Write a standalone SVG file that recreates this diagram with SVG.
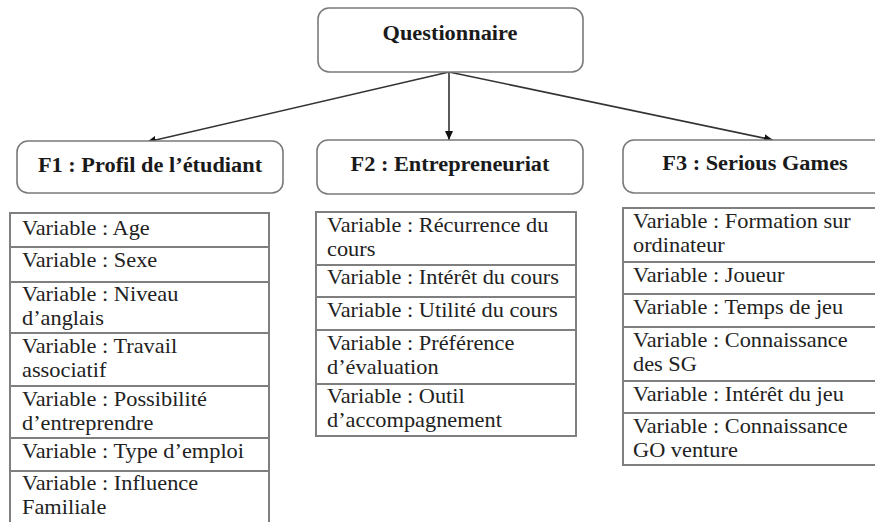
<svg xmlns="http://www.w3.org/2000/svg" width="875" height="522" viewBox="0 0 875 522">
<defs>
<style>
.box{fill:#fff;stroke:#7a7a7a;stroke-width:1.6}
.cell{fill:#fff;stroke:#7f7f7f;stroke-width:2}
.h{font-size:20.5px;font-weight:bold;fill:#1a1a1a;text-anchor:middle}
.t{font-size:20.5px;fill:#222}
.edge{stroke:#333;stroke-width:1.6;fill:none;marker-end:url(#ah)}
</style>
<marker id="ah" markerUnits="userSpaceOnUse" markerWidth="10" markerHeight="8" refX="9" refY="4" orient="auto">
<path d="M0,0 L9,4 L0,8 Z" fill="#111"/>
</marker>
</defs>
<rect width="875" height="522" fill="#fff"/>

<g id="connectors">
<line class="edge" x1="449" y1="72" x2="449" y2="140"/>
<line class="edge" x1="449" y1="72" x2="147" y2="142"/>
<line class="edge" x1="449" y1="72" x2="773" y2="140"/>
</g>

<g font-family="Liberation Serif, Times New Roman, DejaVu Serif, serif">
<g id="questionnaire">
<rect class="box" x="318" y="8" width="265" height="64" rx="11"/>
<g transform="translate(450,40) scale(1.09,1)"><text class="h" x="0" y="0">Questionnaire</text></g>
</g>

<g id="f1">
<rect class="box" x="17" y="141" width="266" height="52" rx="11"/>
<g transform="translate(150,172) scale(1.09,1)"><text class="h" x="0" y="0">F1 : Profil de l’étudiant</text></g>
</g>

<g id="f2">
<rect class="box" x="317" y="140" width="266" height="54" rx="11"/>
<g transform="translate(450,171) scale(1.09,1)"><text class="h" x="0" y="0">F2 : Entrepreneuriat</text></g>
</g>

<g id="f3">
<rect class="box" x="623" y="140" width="264" height="53" rx="11"/>
<g transform="translate(755,170) scale(1.09,1)"><text class="h" x="0" y="0">F3 : Serious Games</text></g>
</g>

<g id="f1-variables">
<rect class="cell" x="10" y="213" width="259" height="34"/>
<rect class="cell" x="10" y="247" width="259" height="35"/>
<rect class="cell" x="10" y="282" width="259" height="51"/>
<rect class="cell" x="10" y="333" width="259" height="53"/>
<rect class="cell" x="10" y="386" width="259" height="52"/>
<rect class="cell" x="10" y="438" width="259" height="33"/>
<rect class="cell" x="10" y="471" width="259" height="56"/>
<g transform="translate(22,0) scale(1.09,1)">
<text class="t" x="0" y="235">Variable : Age</text>
<text class="t" x="0" y="267">Variable : Sexe</text>
<text class="t" x="0" y="301">Variable : Niveau</text>
<text class="t" x="0" y="325">d’anglais</text>
<text class="t" x="0" y="353">Variable : Travail</text>
<text class="t" x="0" y="377">associatif</text>
<text class="t" x="0" y="406">Variable : Possibilité</text>
<text class="t" x="0" y="430">d’entreprendre</text>
<text class="t" x="0" y="458">Variable : Type d’emploi</text>
<text class="t" x="0" y="490">Variable : Influence</text>
<text class="t" x="0" y="514">Familiale</text>
</g>
</g>

<g id="f2-variables">
<rect class="cell" x="316" y="212" width="260" height="53"/>
<rect class="cell" x="316" y="265" width="260" height="32"/>
<rect class="cell" x="316" y="297" width="260" height="33"/>
<rect class="cell" x="316" y="330" width="260" height="54"/>
<rect class="cell" x="316" y="384" width="260" height="52"/>
<g transform="translate(327,0) scale(1.09,1)">
<text class="t" x="0" y="232">Variable : Récurrence du</text>
<text class="t" x="0" y="256">cours</text>
<text class="t" x="0" y="284">Variable : Intérêt du cours</text>
<text class="t" x="0" y="317">Variable : Utilité du cours</text>
<text class="t" x="0" y="350">Variable : Préférence</text>
<text class="t" x="0" y="374">d’évaluation</text>
<text class="t" x="0" y="403">Variable : Outil</text>
<text class="t" x="0" y="427">d’accompagnement</text>
</g>
</g>

<g id="f3-variables">
<rect class="cell" x="623" y="208" width="262" height="54"/>
<rect class="cell" x="623" y="262" width="262" height="32"/>
<rect class="cell" x="623" y="294" width="262" height="33"/>
<rect class="cell" x="623" y="327" width="262" height="54"/>
<rect class="cell" x="623" y="381" width="262" height="32"/>
<rect class="cell" x="623" y="413" width="262" height="52"/>
<g transform="translate(633,0) scale(1.09,1)">
<text class="t" x="0" y="228">Variable : Formation sur</text>
<text class="t" x="0" y="252">ordinateur</text>
<text class="t" x="0" y="282">Variable : Joueur</text>
<text class="t" x="0" y="314">Variable : Temps de jeu</text>
<text class="t" x="0" y="347">Variable : Connaissance</text>
<text class="t" x="0" y="371">des SG</text>
<text class="t" x="0" y="401">Variable : Intérêt du jeu</text>
<text class="t" x="0" y="433">Variable : Connaissance</text>
<text class="t" x="0" y="457">GO venture</text>
</g>
</g>
</g>
</svg>
